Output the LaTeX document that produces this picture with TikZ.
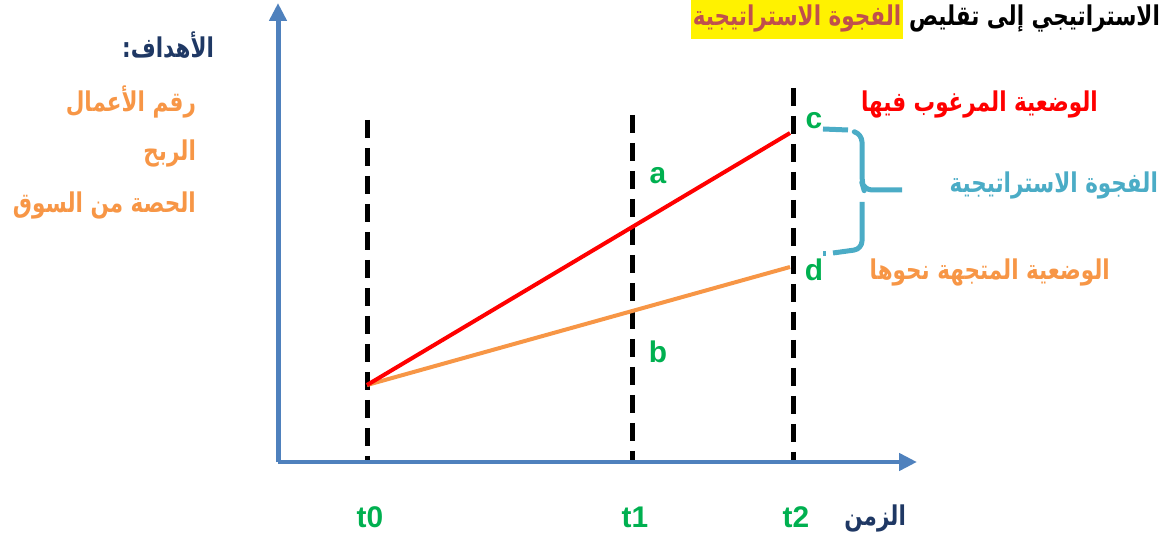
\documentclass[tikz,border=0pt]{standalone}
\usepackage{fontspec}
\usepackage{graphicx}
\setmainfont{Liberation Sans}
\newfontfamily\arabicfont[Script=Arabic]{DejaVu Sans}
\TeXXeTstate=1
\usetikzlibrary{arrows.meta}
\definecolor{axisblue}{RGB}{79,129,189}
\definecolor{markgreen}{RGB}{0,176,80}
\definecolor{gapblue}{RGB}{75,172,198}
\definecolor{goalorange}{RGB}{247,150,70}
\definecolor{goalnavy}{RGB}{31,56,100}
\definecolor{titlered}{RGB}{192,80,77}
\newcommand\artext[1]{\scalebox{0.79}[1]{\arabicfont\bfseries\beginR #1\endR}}
\tikzset{
  axisline/.style={axisblue, line width=0.1cm, -{Triangle[length=0.36cm,width=0.34cm]}},
  timeline/.style={black, line width=0.1cm, dash pattern=on 0.36cm off 0.2cm},
  gapline/.style={gapblue, line width=0.1cm, rounded corners=0.16cm},
  arlbl/.style={font=\fontsize{15.5}{18}\selectfont, inner sep=1pt},
  ptlbl/.style={markgreen, font=\bfseries\fontsize{17}{20}\selectfont, inner sep=1pt}
}
\begin{document}
\begin{tikzpicture}[x=0.02cm, y=-0.02cm, line join=round]
  \useasboundingbox (0,0) rectangle (1163,533);
  \coordinate (O) at (278,462);
  \coordinate (ytop) at (278,3);
  \coordinate (xend) at (917,462);
  \coordinate (s) at (367,385);
  \coordinate (cpt) at (790,133);
  \coordinate (dpt) at (790,267);
  % time marks
  \foreach \t/\x/\y in {0/367/120,1/632/115,2/793/88}{
    \draw[timeline] (\x,\y) -- (\x,462);
    \node[ptlbl] (t\t) at (\x+3,517) {t\t};
  }
  % axes
  \draw[axisline] (O) -- (ytop);
  \draw[axisline] (O) -- (xend);
  \node[arlbl, goalnavy, anchor=east] (time) at (908,518) {\artext{الزمن}};
  % paths
  \draw[goalorange, line width=0.08cm] (s) -- (dpt);
  \draw[red, line width=0.08cm] (s) -- (cpt);
  \node[ptlbl] (a) at (658,176) {a};
  \node[ptlbl] (b) at (658,352) {b};
  \node[ptlbl] (c) at (814,121) {c};
  \node[ptlbl] (d) at (814,270) {d};
  % strategic gap (dashed brace)
  \draw[gapline] (823,129) -- (848,130);
  \draw[gapline] (855,132) -- (862,134) -- (862,183) -- (864,190) -- (902,190);
  \draw[gapline] (862,202) -- (862,249) -- (833,253);
  \draw[gapline] (823,254) -- (826,254);
  \node[arlbl, red, anchor=east] (want) at (1100,104) {\artext{الوضعية المرغوب فيها}};
  \node[arlbl, gapblue, anchor=east] (gap) at (1160,185) {\artext{الفجوة الاستراتيجية}};
  \node[arlbl, goalorange, anchor=east] (trend) at (1112,272) {\artext{الوضعية المتجهة نحوها}};
  % goals
  \node[arlbl, goalnavy, anchor=east] (goals) at (216,45) {\artext{الأهداف:}};
  \node[arlbl, goalorange, anchor=east] (g1) at (198,102) {\artext{رقم الأعمال}};
  \node[arlbl, goalorange, anchor=east] (g2) at (198,153) {\artext{الربح}};
  \node[arlbl, goalorange, anchor=east] (g3) at (198,205) {\artext{الحصة من السوق}};
  % title
  \node[arlbl, anchor=east] (title) at (1162,18) {\artext{الاستراتيجي إلى تقليص}};
  \node[arlbl, titlered, fill=yellow, anchor=east, inner ysep=4pt, inner xsep=1pt] (hl) at ([xshift=-2pt]title.west) {\artext{الفجوة الاستراتيجية}};
\end{tikzpicture}
\end{document}
